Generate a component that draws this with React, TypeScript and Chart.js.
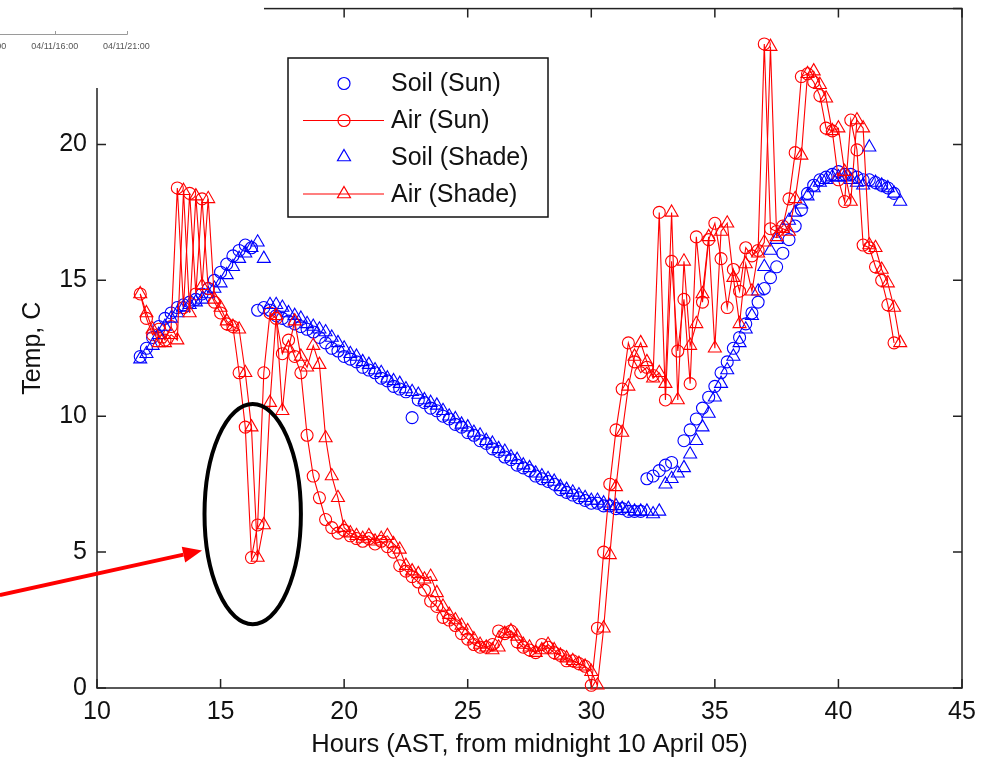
import React, { useEffect, useRef } from 'react';
import { Chart, registerables } from 'chart.js';

Chart.register(...registerables);

// ---------- data ----------
const xTicks = [10, 15, 20, 25, 30, 35, 40, 45];
const yTicks = [0, 5, 10, 15, 20, 25];
const xTitle = 'Hours (AST, from midnight 10 April 05)';
const yTitle = 'Temp, C';
const legendLabels = ['Soil (Sun)', 'Air (Sun)', 'Soil (Shade)', 'Air (Shade)'];
const insetLabels = ['04/11/11:00', '04/11/16:00', '04/11/21:00'];

// [hour, temperature °C]
const soilSun: [number, number][] = [
  [11.75, 12.2], [12, 12.5], [12.25, 12.9], [12.5, 13.3],
  [12.75, 13.6], [13, 13.8], [13.25, 14.0], [13.5, 14.1],
  [13.75, 14.2], [14, 14.3], [14.25, 14.5], [14.5, 14.7],
  [14.75, 15.0], [15, 15.3], [15.25, 15.6], [15.5, 15.9],
  [15.75, 16.1], [16, 16.3], [16.25, 16.2], [16.5, 13.9],
  [16.75, 14.0], [17, 13.9], [17.25, 13.7], [17.5, 13.6],
  [17.75, 13.5], [18, 13.4], [18.25, 13.3], [18.5, 13.2],
  [18.75, 13.1], [19, 12.9], [19.25, 12.7], [19.5, 12.5],
  [19.75, 12.4], [20, 12.2], [20.25, 12.1], [20.5, 12.0],
  [20.75, 11.8], [21, 11.7], [21.25, 11.6], [21.5, 11.4],
  [21.75, 11.3], [22, 11.1], [22.25, 11.0], [22.5, 10.9],
  [22.75, 9.95], [23, 10.6], [23.25, 10.5], [23.5, 10.3],
  [23.75, 10.2], [24, 10.0], [24.25, 9.9], [24.5, 9.7],
  [24.75, 9.6], [25, 9.4], [25.25, 9.3], [25.5, 9.1],
  [25.75, 9.0], [26, 8.8], [26.25, 8.7], [26.5, 8.5],
  [26.75, 8.4], [27, 8.2], [27.25, 8.1], [27.5, 8.0],
  [27.75, 7.8], [28, 7.7], [28.25, 7.6], [28.5, 7.5],
  [28.75, 7.3], [29, 7.2], [29.25, 7.1], [29.5, 7.0],
  [29.75, 6.9], [30, 6.8], [30.25, 6.8], [30.5, 6.7],
  [30.75, 6.7], [31, 6.6], [31.25, 6.6], [31.5, 6.5],
  [31.75, 6.5], [32, 6.5], [32.25, 7.7], [32.5, 7.8],
  [32.75, 8.0], [33, 8.2], [33.25, 8.3],
  [33.75, 9.1], [34, 9.5], [34.25, 9.9], [34.5, 10.3],
  [34.75, 10.7], [35, 11.1], [35.25, 11.6], [35.5, 12.0],
  [35.75, 12.5], [36, 12.9], [36.25, 13.4], [36.5, 13.8],
  [36.75, 14.2], [37, 14.7], [37.25, 15.1], [37.5, 15.5],
  [37.75, 16.0], [38, 16.5], [38.25, 17.0], [38.5, 17.6],
  [38.75, 18.2], [39, 18.5], [39.25, 18.7], [39.5, 18.8],
  [39.75, 18.9], [40, 19.0], [40.25, 18.9], [40.5, 18.9],
  [40.75, 18.8], [41, 18.7], [41.25, 18.7], [41.5, 18.6],
  [41.75, 18.5], [42, 18.4], [42.25, 18.2],
];

const airSun: [number, number][] = [
  [11.75, 14.5], [12, 13.6], [12.25, 13.0], [12.5, 13.2],
  [12.75, 12.8], [13, 13.3], [13.25, 18.4], [13.5, 14.0],
  [13.75, 18.2], [14, 14.5], [14.25, 18.0], [14.5, 14.7],
  [14.75, 14.2], [15, 13.8], [15.25, 13.4], [15.5, 13.3],
  [15.75, 11.6], [16, 9.6], [16.25, 4.8], [16.5, 6.0],
  [16.75, 11.6], [17, 13.8], [17.25, 13.6], [17.5, 12.3],
  [17.75, 12.8], [18, 12.2], [18.25, 11.6], [18.5, 9.3],
  [18.75, 7.8], [19, 7.0], [19.25, 6.2], [19.5, 5.9],
  [19.75, 5.7], [20, 5.8], [20.25, 5.6], [20.5, 5.5],
  [20.75, 5.4], [21, 5.5], [21.25, 5.3], [21.5, 5.4],
  [21.75, 5.2], [22, 5.0], [22.25, 4.5], [22.5, 4.3],
  [22.75, 4.1], [23, 3.9], [23.25, 3.6], [23.5, 3.2],
  [23.75, 3.0], [24, 2.6], [24.25, 2.5], [24.5, 2.3],
  [24.75, 2.0], [25, 1.8], [25.25, 1.6], [25.5, 1.5],
  [25.75, 1.5], [26, 1.6], [26.25, 2.1], [26.5, 2.0],
  [26.75, 2.1], [27, 1.7], [27.25, 1.5], [27.5, 1.4],
  [27.75, 1.3], [28, 1.6], [28.25, 1.5], [28.5, 1.3],
  [28.75, 1.2], [29, 1.0], [29.25, 1.0], [29.5, 0.9],
  [29.75, 0.8], [30, 0.1], [30.25, 2.2], [30.5, 5.0],
  [30.75, 7.5], [31, 9.5], [31.25, 11.0], [31.5, 12.7],
  [31.75, 12.0], [32, 11.6], [32.25, 11.8], [32.5, 11.5],
  [32.75, 17.5], [33, 10.6], [33.25, 15.7], [33.5, 12.4],
  [33.75, 14.3], [34, 11.2], [34.25, 16.6], [34.5, 14.2],
  [34.75, 16.5], [35, 17.1], [35.25, 15.8], [35.5, 14.0],
  [35.75, 15.4], [36, 14.6], [36.25, 16.2], [36.5, 15.9],
  [36.75, 16.1], [37, 23.7], [37.25, 16.9], [37.5, 16.8],
  [37.75, 17.0], [38, 18.0], [38.25, 19.7], [38.5, 22.5],
  [38.75, 22.6], [39, 22.3], [39.25, 21.8], [39.5, 20.6],
  [39.75, 20.5], [40, 18.7], [40.25, 17.9], [40.5, 20.9],
  [40.75, 19.8], [41, 16.3], [41.25, 16.2], [41.5, 15.5],
  [41.75, 15.0], [42, 14.1], [42.25, 12.7],
];

const soilShade: [number, number][] = [
  [11.75, 12.1], [12, 12.3], [12.25, 12.6], [12.5, 13.0],
  [12.75, 13.3], [13, 13.6], [13.25, 13.8], [13.5, 14.0],
  [13.75, 14.1], [14, 14.2], [14.25, 14.3], [14.5, 14.5],
  [14.75, 14.7], [15, 14.9], [15.25, 15.2], [15.5, 15.5],
  [15.75, 15.8], [16, 16.0], [16.25, 16.2], [16.5, 16.4],
  [16.75, 15.8], [17, 14.1], [17.25, 14.1], [17.5, 14.0],
  [17.75, 13.8], [18, 13.7], [18.25, 13.6], [18.5, 13.4],
  [18.75, 13.3], [19, 13.2], [19.25, 13.1], [19.5, 12.9],
  [19.75, 12.7], [20, 12.5], [20.25, 12.3], [20.5, 12.2],
  [20.75, 12.0], [21, 11.9], [21.25, 11.7], [21.5, 11.6],
  [21.75, 11.4], [22, 11.3], [22.25, 11.2], [22.5, 11.0],
  [22.75, 10.9], [23, 10.8], [23.25, 10.6], [23.5, 10.5],
  [23.75, 10.4], [24, 10.2], [24.25, 10.0], [24.5, 9.9],
  [24.75, 9.7], [25, 9.6], [25.25, 9.4], [25.5, 9.3],
  [25.75, 9.1], [26, 9.0], [26.25, 8.8], [26.5, 8.7],
  [26.75, 8.5], [27, 8.4], [27.25, 8.2], [27.5, 8.1],
  [27.75, 7.9], [28, 7.8], [28.25, 7.7], [28.5, 7.6],
  [28.75, 7.4], [29, 7.3], [29.25, 7.2], [29.5, 7.1],
  [29.75, 7.0], [30, 6.9], [30.25, 6.9], [30.5, 6.8],
  [30.75, 6.7], [31, 6.7], [31.25, 6.6], [31.5, 6.6],
  [31.75, 6.5], [32, 6.5], [32.25, 6.5], [32.5, 6.4],
  [32.75, 6.5], [33, 7.5], [33.25, 7.7], [33.5, 7.9],
  [33.75, 8.1], [34, 8.6], [34.25, 9.1], [34.5, 9.6],
  [34.75, 10.1], [35, 10.7], [35.25, 11.2], [35.5, 11.7],
  [35.75, 12.2], [36, 12.7], [36.25, 13.2], [36.5, 13.7],
  [36.75, 14.6], [37, 15.5], [37.25, 16.1], [37.5, 16.5],
  [37.75, 16.9], [38, 17.2], [38.25, 17.5], [38.5, 17.8],
  [38.75, 18.1], [39, 18.4], [39.25, 18.6], [39.5, 18.7],
  [39.75, 18.8], [40, 18.8], [40.25, 18.8], [40.5, 18.7],
  [40.75, 18.6], [41, 18.5], [41.25, 19.9], [41.5, 18.6],
  [41.75, 18.5], [42, 18.4], [42.25, 18.2], [42.5, 17.9],
];

const airShade: [number, number][] = [
  [11.75, 14.5], [12, 13.8], [12.25, 13.2], [12.5, 12.7],
  [12.75, 12.7], [13, 13.0], [13.25, 12.8], [13.5, 18.3],
  [13.75, 13.8], [14, 18.1], [14.25, 14.8], [14.5, 18.0],
  [14.75, 14.3], [15, 14.0], [15.25, 13.5], [15.5, 13.3],
  [15.75, 13.2], [16, 11.6], [16.25, 9.6], [16.5, 4.8],
  [16.75, 6.0], [17, 10.5], [17.25, 13.7], [17.5, 10.2],
  [17.75, 12.5], [18, 13.5], [18.25, 12.2], [18.5, 11.8],
  [18.75, 12.6], [19, 11.9], [19.25, 9.2], [19.5, 7.8],
  [19.75, 7.0], [20, 5.9], [20.25, 5.7], [20.5, 5.6],
  [20.75, 5.5], [21, 5.6], [21.25, 5.4], [21.5, 5.5],
  [21.75, 5.6], [22, 5.3], [22.25, 5.1], [22.5, 4.5],
  [22.75, 4.3], [23, 4.2], [23.25, 4.0], [23.5, 4.1],
  [23.75, 3.5], [24, 3.0], [24.25, 2.7], [24.5, 2.5],
  [24.75, 2.3], [25, 2.1], [25.25, 1.8], [25.5, 1.6],
  [25.75, 1.5], [26, 1.4], [26.25, 1.5], [26.5, 2.0],
  [26.75, 2.1], [27, 1.9], [27.25, 1.6], [27.5, 1.5],
  [27.75, 1.3], [28, 1.4], [28.25, 1.6], [28.5, 1.4],
  [28.75, 1.2], [29, 1.1], [29.25, 1.0], [29.5, 0.9],
  [29.75, 0.8], [30, 0.6], [30.25, 0.1], [30.5, 2.2],
  [30.75, 4.9], [31, 7.4], [31.25, 9.4], [31.5, 11.1],
  [31.75, 12.2], [32, 12.7], [32.25, 12.0], [32.5, 11.4],
  [32.75, 11.6], [33, 11.2], [33.25, 17.5], [33.5, 10.6],
  [33.75, 15.7], [34, 12.6], [34.25, 13.4], [34.5, 14.5],
  [34.75, 16.6], [35, 12.5], [35.25, 16.8], [35.5, 17.1],
  [35.75, 15.1], [36, 13.4], [36.25, 15.6], [36.5, 14.6],
  [36.75, 16.0], [37, 16.4], [37.25, 23.6], [37.5, 16.6],
  [37.75, 16.9], [38, 16.8], [38.25, 18.0], [38.5, 19.6],
  [38.75, 22.6], [39, 22.7], [39.25, 22.2], [39.5, 21.7],
  [39.75, 20.5], [40, 20.6], [40.25, 19.0], [40.5, 17.9],
  [40.75, 20.9], [41, 20.6], [41.25, 16.3], [41.5, 16.2],
  [41.75, 15.4], [42, 14.9], [42.25, 14.0], [42.5, 12.7],
];

// annotation (in data units): ellipse around the dip, arrow pointing to it
const ellipseCenter = [16.3, 6.4];
const ellipseRadii = [1.95, 4.05];
const arrowFrom = [6.07, 3.42];
const arrowTo = [14.25, 5.06];

// ---------- styling ----------
const FONT = "'Liberation Sans', Arial, Helvetica, sans-serif";
const BLUE = '#0000ff';
const RED = '#ff0000';
const INK = '#111111';

const toXY = (arr: [number, number][]) => arr.map(([x, y]) => ({ x, y }));

function drawMarker(ctx: CanvasRenderingContext2D, kind: string, x: number, y: number, r: number) {
  ctx.beginPath();
  if (kind === 'circle') {
    ctx.arc(x, y, r, 0, Math.PI * 2);
  } else {
    ctx.moveTo(x, y - r);
    ctx.lineTo(x + 0.866 * r, y + 0.5 * r);
    ctx.lineTo(x - 0.866 * r, y + 0.5 * r);
    ctx.closePath();
  }
  ctx.stroke();
}

const framePlugin = {
  id: 'frame',
  beforeDatasetsDraw(chart: any) {
    const { ctx, chartArea: a, scales } = chart;
    const x = scales.x;
    const y = scales.y;
    ctx.save();
    ctx.strokeStyle = '#222';
    ctx.lineWidth = 1.5;
    ctx.strokeRect(a.left, a.top, a.right - a.left, a.bottom - a.top);
    const L = 9;
    ctx.beginPath();
    xTicks.forEach((v) => {
      const px = x.getPixelForValue(v);
      ctx.moveTo(px, a.bottom);
      ctx.lineTo(px, a.bottom - L);
      ctx.moveTo(px, a.top);
      ctx.lineTo(px, a.top + L);
    });
    yTicks.forEach((v) => {
      const py = y.getPixelForValue(v);
      ctx.moveTo(a.left, py);
      ctx.lineTo(a.left + L, py);
      ctx.moveTo(a.right, py);
      ctx.lineTo(a.right - L, py);
    });
    ctx.stroke();
    ctx.restore();
  },
};

const overlayPlugin = {
  id: 'overlay',
  afterDraw(chart: any) {
    const { ctx, scales } = chart;
    const x = scales.x;
    const y = scales.y;
    ctx.save();

    // pasted fragment in the top-left corner
    ctx.fillStyle = '#ffffff';
    ctx.fillRect(0, 0, 264, 88);
    ctx.strokeStyle = '#9a9a9a';
    ctx.lineWidth = 1;
    ctx.beginPath();
    ctx.moveTo(0, 34.5);
    ctx.lineTo(127.5, 34.5);
    ctx.moveTo(55.5, 34.5);
    ctx.lineTo(55.5, 31);
    ctx.moveTo(127.5, 34.5);
    ctx.lineTo(127.5, 31);
    ctx.stroke();
    ctx.fillStyle = '#555';
    ctx.font = `9px ${FONT}`;
    ctx.textAlign = 'center';
    ctx.textBaseline = 'middle';
    const insetX = [-16.8, 54.7, 126.4];
    insetLabels.forEach((t, i) => ctx.fillText(t, insetX[i], 47));

    // legend
    const lx = 288, ly = 58, lw = 260, lh = 159;
    ctx.fillStyle = '#fff';
    ctx.fillRect(lx, ly, lw, lh);
    ctx.strokeStyle = '#111';
    ctx.lineWidth = 1.5;
    ctx.strokeRect(lx, ly, lw, lh);
    const rows = [83.5, 120.5, 157, 194];
    const kinds = ['circle', 'circle', 'triangle', 'triangle'];
    const colors = [BLUE, RED, BLUE, RED];
    const lines = [false, true, false, true];
    ctx.font = `25px ${FONT}`;
    ctx.textAlign = 'left';
    ctx.textBaseline = 'middle';
    legendLabels.forEach((label, i) => {
      const ry = rows[i];
      ctx.strokeStyle = colors[i];
      ctx.lineWidth = 1.2;
      if (lines[i]) {
        ctx.beginPath();
        ctx.moveTo(303, ry);
        ctx.lineTo(384, ry);
        ctx.stroke();
      }
      drawMarker(ctx, kinds[i], 344, ry, kinds[i] === 'circle' ? 6 : 7.5);
      ctx.fillStyle = INK;
      ctx.fillText(label, 391, ry + 1);
    });

    // annotation: ellipse + arrow
    const cx = x.getPixelForValue(ellipseCenter[0]);
    const cy = y.getPixelForValue(ellipseCenter[1]);
    const rx = Math.abs(x.getPixelForValue(ellipseCenter[0] + ellipseRadii[0]) - cx);
    const ry = Math.abs(y.getPixelForValue(ellipseCenter[1] + ellipseRadii[1]) - cy);
    ctx.strokeStyle = '#000';
    ctx.lineWidth = 4;
    ctx.beginPath();
    ctx.ellipse(cx, cy, rx, ry, 0, 0, Math.PI * 2);
    ctx.stroke();

    const ax0 = x.getPixelForValue(arrowFrom[0]);
    const ay0 = y.getPixelForValue(arrowFrom[1]);
    const ax1 = x.getPixelForValue(arrowTo[0]);
    const ay1 = y.getPixelForValue(arrowTo[1]);
    const ang = Math.atan2(ay1 - ay0, ax1 - ax0);
    const headLen = 19, headW = 8;
    const bx = ax1 - headLen * Math.cos(ang);
    const by = ay1 - headLen * Math.sin(ang);
    ctx.strokeStyle = '#ff0000';
    ctx.fillStyle = '#ff0000';
    ctx.lineWidth = 4;
    ctx.beginPath();
    ctx.moveTo(ax0, ay0);
    ctx.lineTo(bx, by);
    ctx.stroke();
    ctx.beginPath();
    ctx.moveTo(ax1, ay1);
    ctx.lineTo(bx + headW * Math.sin(ang), by - headW * Math.cos(ang));
    ctx.lineTo(bx - headW * Math.sin(ang), by + headW * Math.cos(ang));
    ctx.closePath();
    ctx.fill();

    ctx.restore();
  },
};

export default function App() {
  const ref = useRef<HTMLCanvasElement>(null);

  useEffect(() => {
    if (!ref.current) return;
    const chart = new Chart(ref.current, {
      type: 'scatter',
      data: {
        datasets: [
          {
            label: legendLabels[0],
            data: toXY(soilSun),
            showLine: false,
            pointStyle: 'circle',
            pointRadius: 6,
            pointBorderWidth: 1.1,
            pointBorderColor: BLUE,
            pointBackgroundColor: 'rgba(0,0,0,0)',
            borderColor: BLUE,
            order: 4,
            clip: false as any,
          },
          {
            label: legendLabels[1],
            data: toXY(airSun),
            showLine: true,
            borderColor: RED,
            borderWidth: 1.1,
            tension: 0,
            pointStyle: 'circle',
            pointRadius: 6,
            pointBorderWidth: 1.1,
            pointBorderColor: RED,
            pointBackgroundColor: 'rgba(0,0,0,0)',
            order: 3,
            clip: false as any,
          },
          {
            label: legendLabels[2],
            data: toXY(soilShade),
            showLine: false,
            pointStyle: 'triangle',
            pointRadius: 7.5,
            pointBorderWidth: 1.1,
            pointBorderColor: BLUE,
            pointBackgroundColor: 'rgba(0,0,0,0)',
            borderColor: BLUE,
            order: 2,
            clip: false as any,
          },
          {
            label: legendLabels[3],
            data: toXY(airShade),
            showLine: true,
            borderColor: RED,
            borderWidth: 1.1,
            tension: 0,
            pointStyle: 'triangle',
            pointRadius: 7.5,
            pointBorderWidth: 1.1,
            pointBorderColor: RED,
            pointBackgroundColor: 'rgba(0,0,0,0)',
            order: 1,
            clip: false as any,
          },
        ],
      },
      options: {
        responsive: false,
        maintainAspectRatio: false,
        animation: false,
        devicePixelRatio: 1,
        layout: { padding: { left: 0, top: 8, right: 21, bottom: 0 } },
        plugins: {
          legend: { display: false },
          tooltip: { enabled: false },
          title: { display: false },
        },
        scales: {
          x: {
            type: 'linear',
            min: 10,
            max: 45,
            afterFit: (s: any) => {
              s.height = 73;
              s.paddingLeft = 0;
              s.paddingRight = 0;
            },
            grid: { display: false, drawTicks: false },
            border: { display: false },
            ticks: {
              stepSize: 5,
              padding: 9,
              color: INK,
              maxRotation: 0,
              autoSkip: false,
              font: { family: FONT, size: 25 },
              callback: (v: any) => String(v),
            },
            title: {
              display: true,
              text: xTitle,
              color: INK,
              font: { family: FONT, size: 25.5 },
              padding: { top: 0, bottom: 1 },
            },
          },
          y: {
            type: 'linear',
            min: 0,
            max: 25,
            afterFit: (s: any) => {
              s.width = 97;
              s.paddingTop = 0;
              s.paddingBottom = 0;
            },
            grid: { display: false, drawTicks: false },
            border: { display: false },
            ticks: {
              stepSize: 5,
              padding: 10,
              color: INK,
              autoSkip: false,
              font: { family: FONT, size: 25 },
              callback: (v: any) => String(v),
            },
            title: {
              display: true,
              text: yTitle,
              color: INK,
              font: { family: FONT, size: 25 },
              padding: { top: 18, bottom: 0 },
            },
          },
        },
      },
      plugins: [framePlugin, overlayPlugin],
    });
    return () => chart.destroy();
  }, []);

  return (
    <div style={{ position: 'absolute', left: 0, top: 0, width: 983, height: 761, background: '#fff' }}>
      <canvas ref={ref} width={983} height={761} style={{ display: 'block', width: 983, height: 761 }} />
    </div>
  );
}
